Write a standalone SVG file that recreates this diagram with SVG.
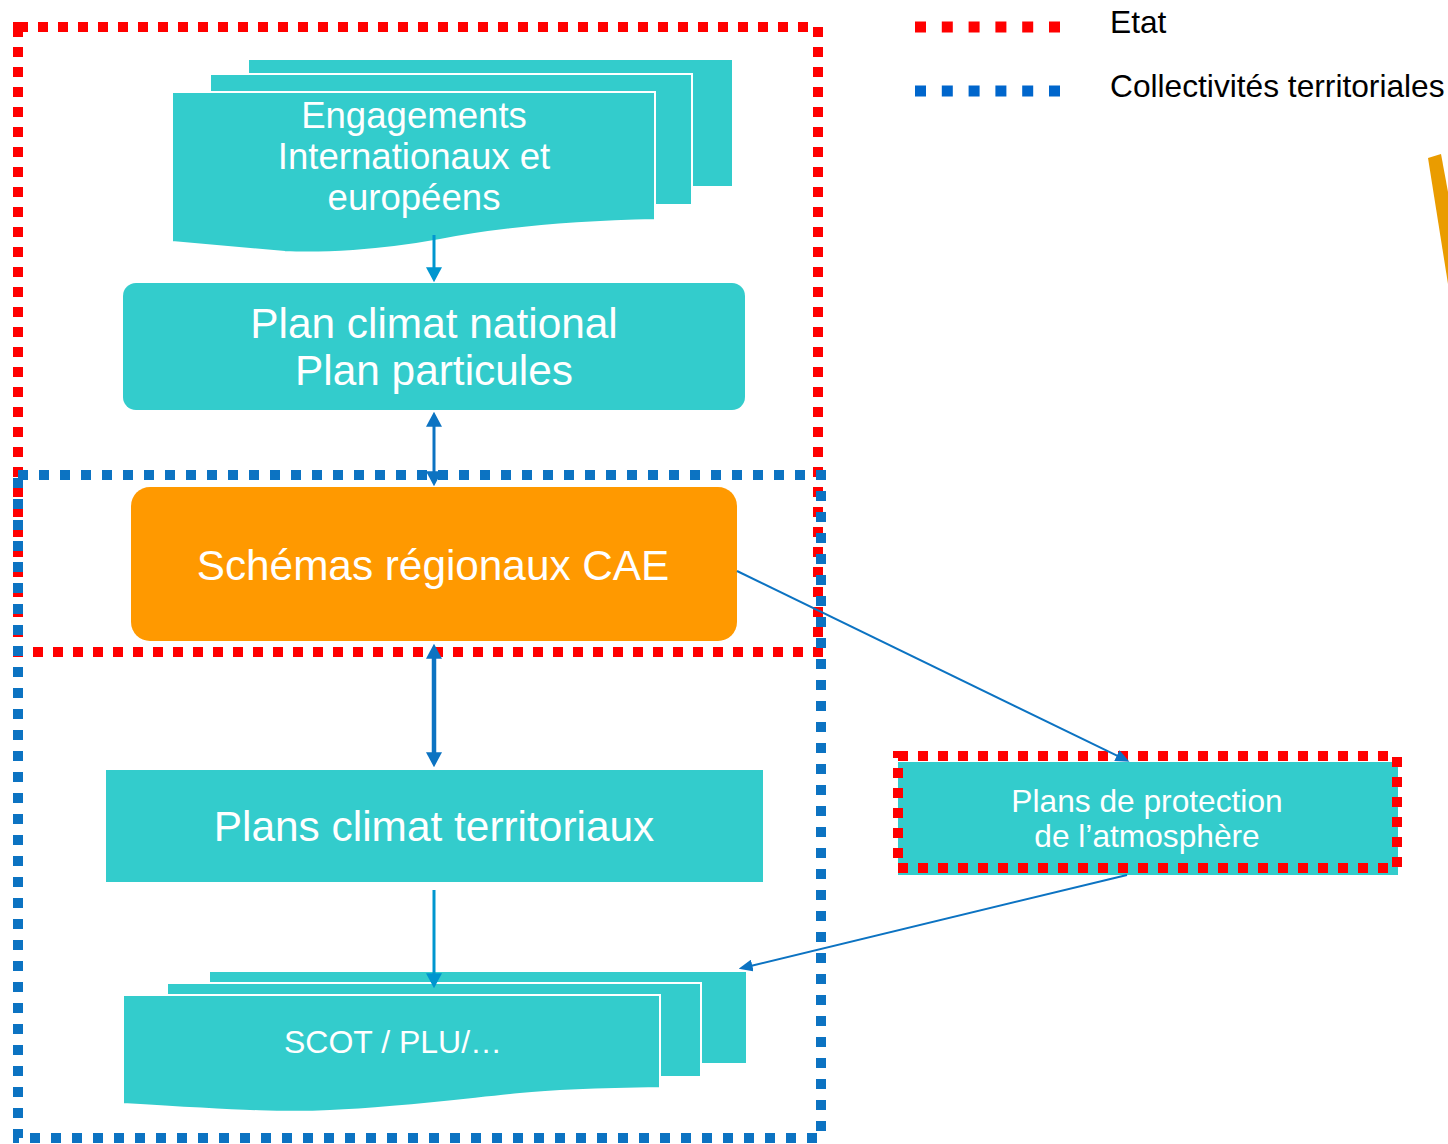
<svg xmlns="http://www.w3.org/2000/svg" width="1448" height="1144" viewBox="0 0 1448 1144">
<style>
.teal{fill:#33CCCC}
.sheet{fill:#33CCCC;stroke:#ffffff;stroke-width:2}
.t{font-family:"Liberation Sans",Arial,sans-serif;fill:#ffffff;text-anchor:middle}
.leg{font-family:"Liberation Sans",Arial,sans-serif;fill:#000000;font-size:31.7px}
.red{fill:none;stroke:#FF0000;stroke-width:10;stroke-dasharray:10 10}
.blue{fill:none;stroke:#0C73C2;stroke-width:10;stroke-dasharray:10 11}
.conn{fill:none;stroke:#0C73C2}
.conn2{fill:none;stroke:#0096CF}
</style>
<defs>
<marker id="ah" viewBox="0 0 10 10" refX="0.5" refY="5" markerWidth="14" markerHeight="12" markerUnits="userSpaceOnUse" orient="auto-start-reverse" preserveAspectRatio="none"><path d="M0,0 L10,5 L0,10 z" fill="#0C73C2"/></marker>
<marker id="ahv" viewBox="0 0 10 10" refX="0.5" refY="5" markerWidth="15" markerHeight="16" markerUnits="userSpaceOnUse" orient="auto-start-reverse" preserveAspectRatio="none"><path d="M0,0 L10,5 L0,10 z" fill="#0C73C2"/></marker>
<marker id="ahv2" viewBox="0 0 10 10" refX="0.5" refY="5" markerWidth="15" markerHeight="16" markerUnits="userSpaceOnUse" orient="auto-start-reverse" preserveAspectRatio="none"><path d="M0,0 L10,5 L0,10 z" fill="#0096CF"/></marker>
</defs>

<!-- Region frames -->
<g id="etat-frame"><rect class="red" x="18" y="27" width="800" height="625"/></g>
<g id="collectivites-frame"><rect class="blue" x="18" y="475" width="803" height="663"/></g>

<!-- Legend -->
<g id="legend">
<line x1="915" y1="27" x2="1060" y2="27" stroke="#FF0000" stroke-width="11" stroke-dasharray="11 15.8"/>
<text class="leg" x="1110" y="33">Etat</text>
<line x1="915" y1="91" x2="1060" y2="91" stroke="#0066CC" stroke-width="11" stroke-dasharray="11 15.8"/>
<text class="leg" x="1110" y="97">Collectivités territoriales</text>
</g>

<!-- partial orange shape at right edge -->
<g id="orange-edge"><polygon points="1428,158 1441,154 1448,192 1448,284" fill="#EA9C00"/></g>

<g id="engagements">
<rect class="sheet" x="248" y="59" width="485" height="128"/>
<rect class="sheet" x="210" y="74" width="482" height="131"/>
<path class="sheet" d="M172,92 H655 V220 C570,222 500,228 440,240 C380,251 320,254 285,252 L172,242 Z"/>
<text class="t" font-size="36.6" x="414" y="128">Engagements</text>
<text class="t" font-size="36.6" x="414" y="169">Internationaux et</text>
<text class="t" font-size="36.6" x="414" y="210">européens</text>
</g>

<g id="plan-national">
<rect class="teal" x="123" y="283" width="622" height="127" rx="13"/>
<text class="t" font-size="42.4" x="434" y="338">Plan climat national</text>
<text class="t" font-size="42.4" x="434" y="385">Plan particules</text>
</g>

<g id="schemas">
<rect x="131" y="487" width="606" height="154" rx="19" fill="#FF9900"/>
<text class="t" font-size="42.3" x="433" y="580">Schémas régionaux CAE</text>
</g>

<g id="plans-territoriaux">
<rect class="teal" x="106" y="770" width="657" height="112"/>
<text class="t" font-size="42.4" x="434" y="841">Plans climat territoriaux</text>
</g>

<g id="scot">
<rect class="sheet" x="209" y="971" width="538" height="93"/>
<rect class="sheet" x="167" y="983" width="534" height="94"/>
<path class="sheet" d="M123,995 H660 V1088 C600,1089 560,1090 520,1094 C460,1100 400,1108 330,1111 C290,1113 250,1112 123,1104 Z"/>
<text class="t" font-size="32" x="393" y="1053">SCOT / PLU/…</text>
</g>

<g id="ppa">
<rect class="teal" x="898" y="762" width="500" height="113"/>
<rect class="red" x="898" y="756" width="499" height="112"/>
<text class="t" font-size="31.7" x="1147" y="812">Plans de protection</text>
<text class="t" font-size="31.7" x="1147" y="847">de l’atmosphère</text>
</g>

<!-- Connectors -->
<g id="connectors">
<line class="conn2" x1="434" y1="235" x2="434" y2="268" stroke-width="3" marker-end="url(#ahv2)"/>
<line class="conn" x1="434" y1="426" x2="434" y2="472" stroke-width="3" marker-start="url(#ahv)" marker-end="url(#ahv)"/>
<line class="conn" x1="434" y1="658" x2="434" y2="753" stroke-width="4.5" marker-start="url(#ahv)" marker-end="url(#ahv)"/>
<line class="conn2" x1="434" y1="890" x2="434" y2="974" stroke-width="3" marker-end="url(#ahv2)"/>
<line class="conn" x1="737" y1="571" x2="1117.5" y2="755.9" stroke-width="2" marker-end="url(#ah)"/>
<line class="conn" x1="1127" y1="875" x2="751.6" y2="965.7" stroke-width="2" marker-end="url(#ah)"/>
</g>
</svg>
